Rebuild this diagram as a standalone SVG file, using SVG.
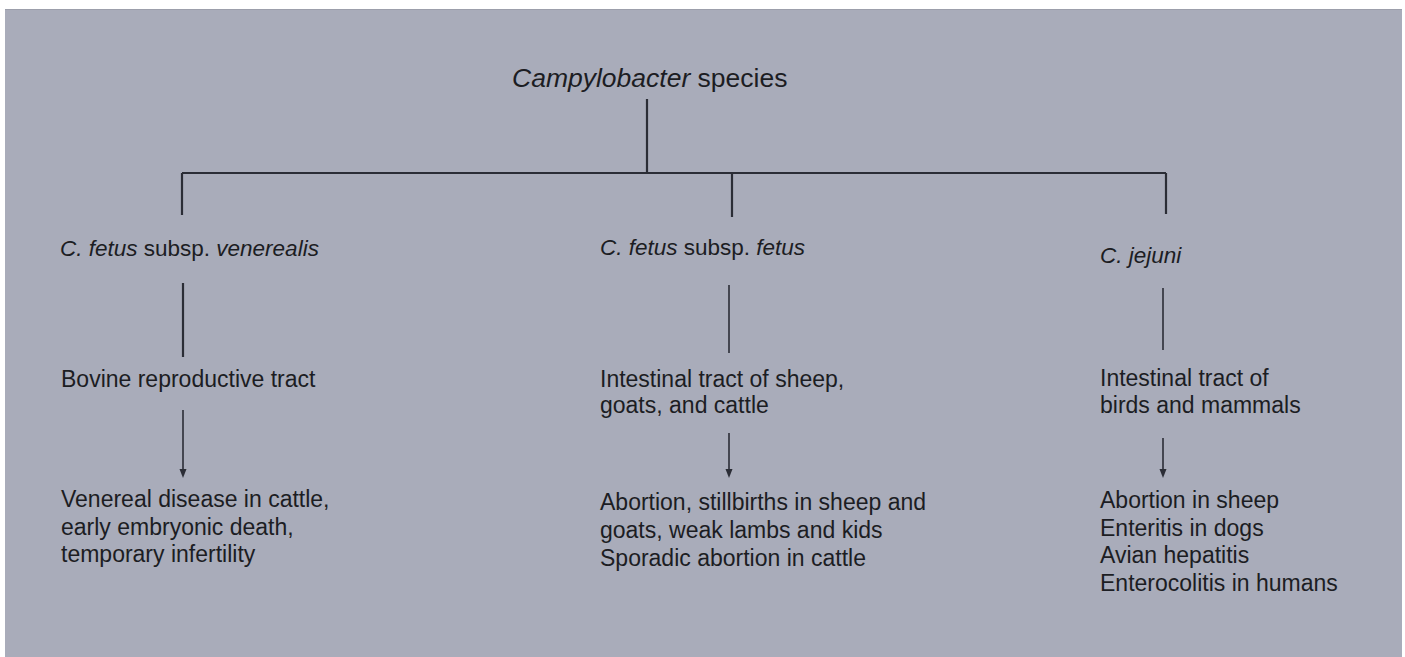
<svg xmlns="http://www.w3.org/2000/svg" width="1405" height="657" viewBox="0 0 1405 657">
<style>
text{font-family:"Liberation Sans",Arial,sans-serif;fill:#1c1d23}
.t{font-size:26.5px}
.s{font-size:22.5px}
.b{font-size:23px}
.i{font-style:italic}
.c{stroke:#2b2d36;stroke-width:2.2;fill:none}
.n{stroke:#2b2d36;stroke-width:1.6;fill:none}
.h{fill:#2b2d36}
</style>
<rect x="0" y="0" width="1405" height="657" fill="#ffffff"/>
<rect x="5" y="9" width="1397" height="648" fill="#a9acba"/>
<line x1="5" y1="9.5" x2="1402" y2="9.5" stroke="#9c9fab" stroke-width="1"/>

<g id="connectors">
<line class="c" x1="647" y1="99" x2="647" y2="173"/>
<line class="c" x1="182" y1="173" x2="1166" y2="173"/>
<line class="c" x1="182" y1="173" x2="182" y2="215"/>
<line class="c" x1="732" y1="173" x2="732" y2="217"/>
<line class="c" x1="1166" y1="173" x2="1166" y2="214"/>
<line class="c" x1="183" y1="283" x2="183" y2="357"/>
<line class="n" x1="729" y1="285" x2="729" y2="353"/>
<line class="n" x1="1163" y1="288" x2="1163" y2="350"/>
<line class="n" x1="183" y1="410" x2="183" y2="471"/>
<path class="h" d="M179.5,469 L186.5,469 L183,478 Z"/>
<line class="n" x1="729" y1="433" x2="729" y2="471"/>
<path class="h" d="M725.5,469 L732.5,469 L729,478 Z"/>
<line class="n" x1="1163" y1="438" x2="1163" y2="471"/>
<path class="h" d="M1159.5,469 L1166.5,469 L1163,478 Z"/>
</g>

<g id="root">
<text class="t" x="512" y="87"><tspan class="i">Campylobacter</tspan> species</text>
</g>

<g id="venerealis">
<text class="s" x="60" y="256"><tspan class="i">C. fetus</tspan> subsp. <tspan class="i">venerealis</tspan></text>
</g>
<g id="venerealis-habitat">
<text class="b" x="61" y="387">Bovine reproductive tract</text>
</g>
<g id="venerealis-disease">
<text class="b" x="61" y="507">Venereal disease in cattle,</text>
<text class="b" x="61" y="535">early embryonic death,</text>
<text class="b" x="61" y="562">temporary infertility</text>
</g>

<g id="fetus">
<text class="s" x="600" y="255"><tspan class="i">C. fetus</tspan> subsp. <tspan class="i">fetus</tspan></text>
</g>
<g id="fetus-habitat">
<text class="b" x="600" y="387">Intestinal tract of sheep,</text>
<text class="b" x="600" y="413">goats, and cattle</text>
</g>
<g id="fetus-disease">
<text class="b" x="600" y="510">Abortion, stillbirths in sheep and</text>
<text class="b" x="600" y="538">goats, weak lambs and kids</text>
<text class="b" x="600" y="566">Sporadic abortion in cattle</text>
</g>

<g id="jejuni">
<text class="s i" x="1100" y="263">C. jejuni</text>
</g>
<g id="jejuni-habitat">
<text class="b" x="1100" y="386">Intestinal tract of</text>
<text class="b" x="1100" y="413">birds and mammals</text>
</g>
<g id="jejuni-disease">
<text class="b" x="1100" y="508">Abortion in sheep</text>
<text class="b" x="1100" y="536">Enteritis in dogs</text>
<text class="b" x="1100" y="563">Avian hepatitis</text>
<text class="b" x="1100" y="591">Enterocolitis in humans</text>
</g>
</svg>
